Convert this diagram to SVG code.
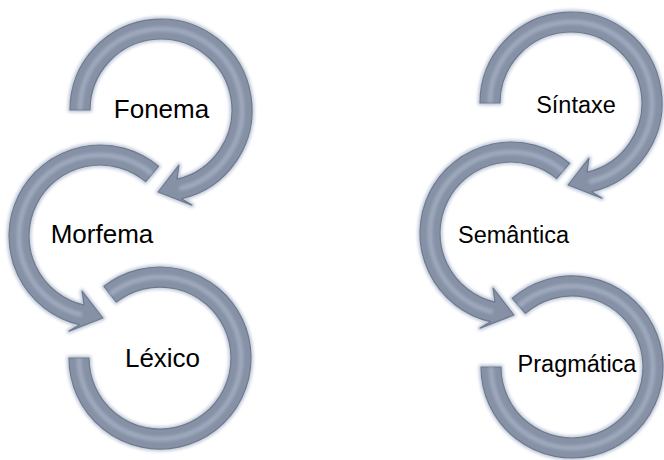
<svg xmlns="http://www.w3.org/2000/svg" width="664" height="460" viewBox="0 0 664 460">
  <defs>
    <filter id="halo" x="-20%" y="-20%" width="140%" height="140%">
      <feGaussianBlur stdDeviation="1.6"/>
    </filter>
    <filter id="soft" x="-10%" y="-10%" width="120%" height="120%">
      <feGaussianBlur stdDeviation="0.6"/>
    </filter>
    <filter id="hl" x="-20%" y="-20%" width="140%" height="140%">
      <feGaussianBlur stdDeviation="1.8"/>
    </filter>
  </defs>
  <style>
    .glow { fill: none; stroke: #c4cddb; stroke-width: 5; stroke-linejoin: round; filter: url(#halo); }
    .arrow { fill: #8691a6; stroke: #6f7a8e; stroke-width: 1.2; stroke-linejoin: round; filter: url(#soft); }
    .shine { fill: none; stroke: #a3aec2; stroke-width: 5; filter: url(#hl); opacity: 0.85; }
    .lbl { font-family: "Liberation Sans", Arial, sans-serif; fill: #000000; text-anchor: middle; }
    .big { font-size: 26px; }
    .small { font-size: 23.5px; }
  </style>
  <rect width="664" height="460" fill="#ffffff"/>

  <g id="node-fonema">
    <path class="glow" d="M70,110 A91,91 0 1 1 181.5,198.7 L191.9,205.1 L158.1,192.0 L178.9,165.2 L177.0,179.2 A71,71 0 1 0 90,110 Z"/>
    <path class="arrow" d="M70,110 A91,91 0 1 1 181.5,198.7 L191.9,205.1 L158.1,192.0 L178.9,165.2 L177.0,179.2 A71,71 0 1 0 90,110 Z"/>
    <path class="shine" d="M80,110 A81,81 0 1 1 179.2,188.9"/>
    <text class="lbl big" x="161.5" y="118">Fonema</text>
  </g>

  <g id="node-morfema">
    <path class="glow" d="M158.5,166.3 A91,91 0 1 0 79.5,324.7 L69.1,331.1 L102.9,318.0 L82.1,291.2 L84.0,305.2 A71,71 0 1 1 145.6,181.6 Z"/>
    <path class="arrow" d="M158.5,166.3 A91,91 0 1 0 79.5,324.7 L69.1,331.1 L102.9,318.0 L82.1,291.2 L84.0,305.2 A71,71 0 1 1 145.6,181.6 Z"/>
    <path class="shine" d="M152.1,174 A81,81 0 1 0 81.8,314.9"/>
    <text class="lbl big" x="102" y="243">Morfema</text>
  </g>

  <g id="node-lexico">
    <path class="glow" d="M104.0,286.3 A91,91 0 1 1 69,358 L89,358 A71,71 0 1 0 116.3,302.1 Z"/>
    <path class="arrow" d="M104.0,286.3 A91,91 0 1 1 69,358 L89,358 A71,71 0 1 0 116.3,302.1 Z"/>
    <path class="shine" d="M110.1,294.2 A81,81 0 1 1 79,358"/>
    <text class="lbl big" x="162.5" y="367">Léxico</text>
  </g>

  <g id="node-sintaxe">
    <path class="glow" d="M480,103 A91,91 0 1 1 591.5,191.7 L601.9,198.1 L568.1,185.0 L588.9,158.2 L587.0,172.2 A71,71 0 1 0 500,103 Z"/>
    <path class="arrow" d="M480,103 A91,91 0 1 1 591.5,191.7 L601.9,198.1 L568.1,185.0 L588.9,158.2 L587.0,172.2 A71,71 0 1 0 500,103 Z"/>
    <path class="shine" d="M490,103 A81,81 0 1 1 589.2,181.9"/>
    <text class="lbl small" x="576" y="113">Síntaxe</text>
  </g>

  <g id="node-semantica">
    <path class="glow" d="M569.5,163.3 A91,91 0 1 0 490.5,321.7 L480.1,328.1 L513.9,315.0 L493.1,288.2 L495.0,302.2 A71,71 0 1 1 556.6,178.6 Z"/>
    <path class="arrow" d="M569.5,163.3 A91,91 0 1 0 490.5,321.7 L480.1,328.1 L513.9,315.0 L493.1,288.2 L495.0,302.2 A71,71 0 1 1 556.6,178.6 Z"/>
    <path class="shine" d="M563.1,171 A81,81 0 1 0 492.8,311.9"/>
    <text class="lbl small" x="513.5" y="243">Semântica</text>
  </g>

  <g id="node-pragmatica">
    <path class="glow" d="M512.3,298.3 A91,91 0 1 1 481,367 L501,367 A71,71 0 1 0 525.4,313.4 Z"/>
    <path class="arrow" d="M512.3,298.3 A91,91 0 1 1 481,367 L501,367 A71,71 0 1 0 525.4,313.4 Z"/>
    <path class="shine" d="M518.9,305.9 A81,81 0 1 1 491,367"/>
    <text class="lbl small" x="577" y="372">Pragmática</text>
  </g>
</svg>
